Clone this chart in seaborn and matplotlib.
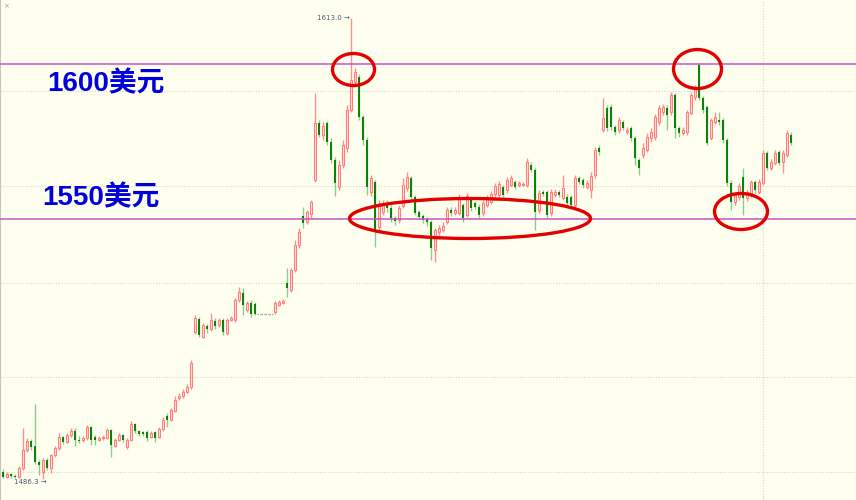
import numpy as np
import pandas as pd
import matplotlib
matplotlib.use('Agg')
import matplotlib.pyplot as plt
from matplotlib.patches import Ellipse
import seaborn as sns

# OHLC prices, one candle per bar
opens = [
    1488.2, 1486.8, 1487.7, 1487.1, 1486.8, 1489.3, 1494.3, 1496.7, 1495.4, 1491.0,
    1488.2, 1491.5, 1489.3, 1492.9, 1494.8, 1497.8, 1496.5, 1498.4, 1499.5, 1497.0,
    1497.0, 1497.6, 1500.6, 1497.8, 1497.0, 1497.6, 1497.6, 1499.8, 1495.4, 1497.0,
    1498.4, 1495.1, 1497.0, 1501.4, 1499.5, 1499.2, 1499.2, 1497.8, 1499.2, 1497.8,
    1500.0, 1503.6, 1502.5, 1505.0, 1508.6, 1509.1, 1510.2, 1511.6,
    1526.7, 1530.3, 1525.3, 1528.4, 1527.5, 1529.7, 1528.6, 1530.0, 1526.4, 1530.0,
    1530.0, 1535.5, 1537.4, 1532.8, 1534.7, 1534.4, 1531.7, 1531.7, 1531.7, 1531.7,
    1532.2, 1534.1, 1534.7, 1540.2, 1538.3, 1543.8, 1550.6, 1558.6, 1557.0, 1559.2,
    1568.5, 1584.2, 1580.9, 1584.2, 1579.0, 1574.0, 1566.6, 1572.6, 1577.3, 1587.8,
    1595.5, 1596.8, 1585.8, 1579.5, 1565.2, 1568.0, 1555.6, 1559.7, 1562.2, 1560.8,
    1558.1, 1557.5, 1561.4, 1566.3, 1569.1, 1563.8, 1559.7, 1558.6, 1557.8, 1557.0,
    1549.3, 1554.2, 1554.8, 1557.0, 1560.3, 1559.4, 1559.4, 1561.6, 1558.9, 1563.0,
    1562.2, 1561.1, 1559.4, 1561.6, 1562.5, 1564.7, 1564.4, 1566.6, 1565.8, 1567.1,
    1568.0, 1567.1, 1567.1, 1567.1, 1572.6, 1571.3, 1560.3, 1565.2, 1565.2, 1559.4,
    1564.4, 1565.2, 1563.6, 1563.8, 1563.8, 1561.6, 1569.1, 1568.5, 1566.6, 1565.8,
    1569.9, 1577.3, 1582.3, 1588.3, 1588.6, 1583.1, 1582.3, 1584.5, 1581.7, 1582.8,
    1580.1, 1574.0, 1575.4, 1576.8, 1580.1, 1580.3, 1584.5, 1587.2, 1588.3, 1587.2,
    1591.9, 1582.8, 1581.4, 1581.7, 1586.9, 1591.3, 1600.1, 1591.1, 1588.6, 1580.1,
    1584.5, 1585.0, 1585.0, 1579.5, 1567.7, 1562.5, 1563.8, 1569.3, 1563.6, 1564.4,
    1568.0, 1565.2, 1567.7, 1575.9, 1571.8, 1573.2, 1576.2, 1573.5, 1575.4, 1580.9,
]
highs = [
    1489.0, 1488.2, 1487.9, 1487.7, 1489.9, 1500.3, 1497.6, 1497.3, 1506.9, 1491.5,
    1492.1, 1492.1, 1493.2, 1495.4, 1498.9, 1498.1, 1498.9, 1500.3, 1500.3, 1498.1,
    1498.1, 1501.1, 1500.9, 1498.4, 1498.1, 1498.4, 1500.3, 1500.0, 1497.6, 1498.9,
    1498.7, 1497.6, 1502.2, 1501.7, 1499.8, 1499.5, 1499.8, 1499.5, 1499.5, 1500.6,
    1503.3, 1504.4, 1505.8, 1509.1, 1509.9, 1511.0, 1512.4, 1519.0,
    1531.4, 1530.8, 1529.2, 1528.9, 1531.9, 1530.6, 1530.6, 1530.6, 1530.6, 1531.1,
    1536.1, 1539.1, 1538.8, 1535.2, 1535.5, 1535.0, 1531.7, 1531.7, 1531.7, 1531.7,
    1535.2, 1535.5, 1535.8, 1544.3, 1544.3, 1552.0, 1555.3, 1561.1, 1560.3, 1563.0,
    1592.4, 1585.0, 1584.5, 1584.7, 1580.1, 1574.8, 1574.0, 1579.5, 1589.1, 1613.0,
    1599.3, 1597.7, 1586.4, 1580.3, 1569.9, 1568.5, 1563.0, 1563.0, 1563.0, 1561.6,
    1558.6, 1561.6, 1569.1, 1570.7, 1569.6, 1564.4, 1560.3, 1559.2, 1558.3, 1557.5,
    1555.3, 1556.1, 1557.0, 1561.1, 1561.1, 1561.1, 1564.7, 1562.2, 1564.9, 1563.8,
    1562.7, 1561.9, 1563.0, 1564.4, 1565.5, 1567.7, 1568.2, 1567.1, 1569.3, 1569.9,
    1568.5, 1568.2, 1568.0, 1574.6, 1573.5, 1571.8, 1565.8, 1565.8, 1565.8, 1566.0,
    1566.0, 1565.8, 1569.9, 1564.7, 1564.4, 1569.9, 1569.6, 1569.1, 1568.5, 1570.7,
    1577.6, 1578.1, 1591.1, 1589.1, 1589.4, 1583.6, 1585.8, 1585.0, 1583.1, 1583.4,
    1580.6, 1574.6, 1578.7, 1581.4, 1582.8, 1586.7, 1589.1, 1589.4, 1589.1, 1592.7,
    1592.4, 1583.4, 1583.1, 1587.8, 1592.7, 1594.6, 1600.7, 1591.6, 1589.1, 1585.6,
    1587.2, 1587.2, 1585.6, 1580.1, 1568.5, 1565.2, 1567.7, 1571.8, 1566.0, 1568.5,
    1568.5, 1568.8, 1576.8, 1576.5, 1574.3, 1576.8, 1576.8, 1576.8, 1582.3, 1581.7,
]
lows = [
    1486.6, 1486.6, 1486.6, 1486.6, 1486.6, 1488.8, 1493.7, 1494.3, 1490.4, 1487.4,
    1486.3, 1488.8, 1487.9, 1492.3, 1494.3, 1495.9, 1496.2, 1497.8, 1495.4, 1496.2,
    1496.5, 1497.0, 1495.6, 1495.6, 1496.7, 1497.0, 1497.3, 1492.3, 1495.1, 1496.7,
    1496.5, 1494.5, 1496.7, 1498.9, 1498.1, 1498.1, 1496.7, 1497.6, 1496.5, 1497.6,
    1499.5, 1500.6, 1502.2, 1504.7, 1508.0, 1508.6, 1509.9, 1511.0,
    1526.2, 1525.3, 1525.1, 1526.4, 1527.0, 1527.5, 1528.1, 1525.9, 1525.9, 1529.7,
    1529.5, 1535.0, 1531.4, 1532.2, 1530.8, 1531.4, 1531.7, 1531.7, 1531.7, 1531.7,
    1531.7, 1533.9, 1534.4, 1536.3, 1537.7, 1543.2, 1549.8, 1555.3, 1556.4, 1558.1,
    1568.0, 1580.3, 1579.5, 1578.1, 1573.2, 1564.1, 1565.8, 1571.8, 1576.2, 1587.2,
    1594.9, 1585.0, 1578.1, 1564.4, 1564.1, 1550.1, 1554.8, 1558.9, 1559.7, 1557.0,
    1556.1, 1556.7, 1560.8, 1565.5, 1563.3, 1558.9, 1557.8, 1556.7, 1555.9, 1546.5,
    1546.0, 1553.1, 1554.2, 1556.4, 1558.6, 1558.9, 1558.9, 1557.0, 1558.3, 1560.0,
    1560.5, 1558.1, 1558.6, 1561.1, 1561.9, 1563.8, 1563.8, 1563.8, 1564.9, 1566.6,
    1566.0, 1566.6, 1566.9, 1566.6, 1570.7, 1554.8, 1559.4, 1564.1, 1558.1, 1558.6,
    1563.8, 1563.8, 1563.0, 1561.4, 1560.8, 1561.1, 1567.4, 1566.3, 1566.0, 1563.6,
    1569.1, 1575.4, 1581.7, 1582.0, 1582.3, 1580.9, 1581.4, 1582.3, 1581.2, 1579.2,
    1572.6, 1569.9, 1574.6, 1576.2, 1579.0, 1579.5, 1583.6, 1586.4, 1582.3, 1586.4,
    1580.1, 1580.3, 1580.9, 1580.9, 1586.4, 1590.5, 1590.5, 1586.9, 1578.1, 1579.5,
    1583.9, 1583.6, 1578.7, 1566.9, 1560.3, 1561.6, 1563.0, 1558.9, 1562.7, 1563.8,
    1564.9, 1564.7, 1567.1, 1571.3, 1571.3, 1572.6, 1572.6, 1570.4, 1574.8, 1578.1,
]
closes = [
    1486.8, 1487.7, 1487.1, 1486.8, 1489.3, 1494.3, 1496.7, 1495.1, 1491.0, 1490.1,
    1491.5, 1489.3, 1492.9, 1494.8, 1497.8, 1496.5, 1498.4, 1499.5, 1497.0, 1496.7,
    1497.6, 1500.6, 1497.0, 1497.0, 1497.6, 1497.8, 1499.8, 1495.6, 1497.0, 1498.4,
    1497.0, 1497.0, 1501.4, 1499.5, 1498.7, 1498.7, 1497.6, 1498.9, 1497.6, 1500.0,
    1502.5, 1502.5, 1505.3, 1508.0, 1509.1, 1510.2, 1511.6, 1518.2,
    1530.6, 1525.9, 1528.6, 1527.5, 1530.0, 1528.4, 1530.0, 1526.7, 1530.0, 1530.6,
    1535.5, 1537.7, 1534.1, 1534.7, 1531.7, 1531.7, 1531.7, 1531.7, 1531.7, 1531.7,
    1534.7, 1535.0, 1535.2, 1538.8, 1543.8, 1550.6, 1554.2, 1556.7, 1559.7, 1562.5,
    1584.2, 1580.9, 1583.4, 1579.0, 1574.0, 1567.7, 1572.6, 1578.1, 1587.8, 1596.0,
    1598.2, 1585.8, 1579.5, 1566.6, 1569.1, 1554.8, 1561.6, 1562.2, 1560.8, 1558.1,
    1557.2, 1560.8, 1567.1, 1569.3, 1563.8, 1559.4, 1558.3, 1557.5, 1557.0, 1549.8,
    1554.8, 1555.3, 1555.9, 1560.3, 1559.4, 1560.3, 1563.8, 1558.1, 1564.1, 1560.8,
    1561.1, 1558.9, 1562.2, 1563.6, 1564.7, 1566.9, 1567.4, 1564.4, 1568.5, 1569.1,
    1566.6, 1567.7, 1567.4, 1573.5, 1571.3, 1559.7, 1564.9, 1564.7, 1558.9, 1565.2,
    1565.2, 1564.4, 1566.3, 1562.2, 1561.6, 1569.1, 1568.0, 1567.1, 1567.7, 1569.6,
    1576.8, 1576.2, 1585.6, 1582.8, 1583.1, 1581.7, 1585.0, 1582.8, 1582.3, 1580.1,
    1574.6, 1571.8, 1577.3, 1580.3, 1581.7, 1585.8, 1588.3, 1588.6, 1586.4, 1591.9,
    1582.8, 1581.4, 1582.3, 1587.2, 1591.9, 1593.8, 1591.1, 1587.8, 1578.7, 1585.0,
    1585.8, 1584.5, 1579.5, 1567.7, 1562.5, 1564.4, 1566.9, 1563.6, 1565.2, 1568.0,
    1565.8, 1568.0, 1575.9, 1571.8, 1573.5, 1575.9, 1573.2, 1575.9, 1581.4, 1578.7,
]

# hand-drawn support / resistance lines and their labels
level_lines = [1600.4, 1557.9]
level_labels = ['1600美元', '1550美元']
# faint chart grid
grid_levels = [1593.0, 1566.9, 1540.2, 1514.3, 1488.2]
grid_bar = 190

sns.set_theme(style='white', rc={'axes.facecolor': '#fffff0', 'figure.facecolor': '#fffff0'})
plt.rcParams['font.family'] = ['Liberation Sans', 'Noto Sans CJK SC', 'DejaVu Sans']

df = pd.DataFrame({'open': opens, 'high': highs, 'low': lows, 'close': closes})
df['bar'] = np.arange(len(df))
flat = df['high'] == df['low']
up = df[(df['close'] >= df['open']) & ~flat]
dn = df[(df['close'] < df['open']) & ~flat]
fl = df[flat]

fig = plt.figure(figsize=(8.56, 5), dpi=100)
ax = fig.add_axes([0, 0, 1, 1])
ax.set_xlim(-0.75, 213.25)
ax.set_ylim(1480.5, 1618)

# grid
for g in grid_levels:
    ax.axhline(g, color='#d6d6c6', lw=0.8, ls=(0, (1, 1.5)), zorder=1)
ax.axvline(grid_bar, color='#d6d6c6', lw=0.8, ls=(0, (1, 1.5)), zorder=1)

# candles: red hollow = up, green solid = down
ax.vlines(up['bar'], up['low'], up['high'], color='#ff8f8f', lw=1, zorder=2)
ax.vlines(dn['bar'], dn['low'], dn['high'], color='#8ccb8c', lw=1, zorder=2)
ax.bar(up['bar'], np.maximum(up['close'] - up['open'], 0.25), bottom=up['open'],
       width=0.7, facecolor='#ffe6e2', edgecolor='#ff7f7f', lw=0.8, zorder=3)
ax.bar(dn['bar'], np.maximum(dn['open'] - dn['close'], 0.25), bottom=dn['close'],
       width=0.7, color='#0a820a', lw=0, zorder=3)
ax.hlines(fl['close'], fl['bar'] - 0.5, fl['bar'] + 0.5, color='#a0a0a0', lw=1,
          linestyles=(0, (1, 1)), zorder=2)

# extreme labels
imax = int(df['high'].idxmax())
imin = int(df['low'].idxmin())
ax.text(imax - 0.2, df['high'].max(), f"{df['high'].max():.1f} →", ha='right', va='center',
        fontsize=5, color='#4a5a70', family='DejaVu Sans')
ax.text(imin + 0.9, df['low'].min(), f"{df['low'].min():.1f} →", ha='right', va='top',
        fontsize=5, color='#4a5a70', family='DejaVu Sans')

# resistance / support lines
for lv in level_lines:
    ax.axhline(lv, color='#c455c4', lw=1.1, zorder=4)

W, H = 856, 500
label_pos = [(47, 84), (42, 198)]
for (px, py), txt in zip(label_pos, level_labels):
    ax.text(px / W, 1 - py / H, txt, transform=ax.transAxes, ha='left', va='center',
            fontsize=20, fontweight='bold', color='#0000dd', zorder=6)

# red circles marking the highs and the range
circles = [(353.5, 69.5, 42, 32), (470, 218.5, 241, 40), (697.5, 69, 48, 39), (741, 211.5, 53, 36)]
for cx, cy, w, h in circles:
    ax.add_patch(Ellipse((cx / W, 1 - cy / H), w / W, h / H, transform=ax.transAxes,
                         fill=False, ec='#e30000', lw=2.4, zorder=5))

ax.text(0.003, 0.993, '×', transform=ax.transAxes, ha='left', va='top', fontsize=5,
        color='#9a9a9a', family='DejaVu Sans')

for s in ['top', 'right', 'bottom']:
    ax.spines[s].set_visible(False)
ax.spines['left'].set_color('#c4c4c4')
ax.spines['left'].set_linewidth(1.5)
ax.set_xticks([])
ax.set_yticks([])

fig.savefig('out.png', dpi=100)
